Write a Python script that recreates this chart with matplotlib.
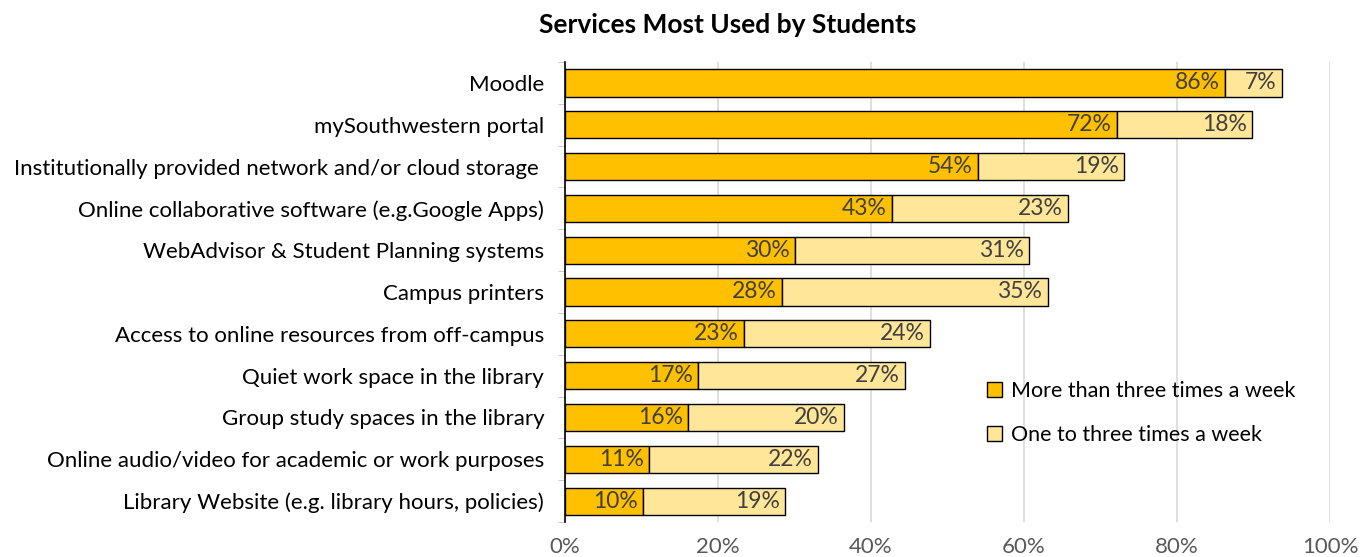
import matplotlib
matplotlib.use("Agg")
import matplotlib.pyplot as plt
import numpy as np
from matplotlib.ticker import FixedLocator

plt.rcParams['font.family'] = ['Lato', 'DejaVu Sans']

categories = [
    "Moodle",
    "mySouthwestern portal",
    "Institutionally provided network and/or cloud storage ",
    "Online collaborative software (e.g.Google Apps)",
    "WebAdvisor & Student Planning systems",
    "Campus printers",
    "Access to online resources from off-campus",
    "Quiet work space in the library",
    "Group study spaces in the library",
    "Online audio/video for academic or work purposes",
    "Library Website (e.g. library hours, policies)",
]
more_than_three = [86.3, 72.2, 54.0, 42.7, 30.1, 28.4, 23.4, 17.4, 16.1, 11.0, 10.2]
one_to_three = [7.4, 17.6, 19.1, 23.1, 30.6, 34.7, 24.3, 27.0, 20.4, 22.1, 18.6]
series_names = ["More than three times a week", "One to three times a week"]
xticks = [0, 20, 40, 60, 80, 100]

c1 = "#FFC000"
c2 = "#FFE699"

fig = plt.figure(figsize=(13.6, 5.57), dpi=100)
ax = fig.add_axes([565/1360, 1-522/557, (1330-565)/1360, 460/557])

y = np.arange(len(categories))
h = 0.65
b1 = ax.barh(y, more_than_three, height=h, color=c1, edgecolor="black", linewidth=1, label=series_names[0], zorder=3)
b2 = ax.barh(y, one_to_three, left=more_than_three, height=h, color=c2, edgecolor="black", linewidth=1, label=series_names[1], zorder=3)

for bars, vals in [(b1, more_than_three), (b2, one_to_three)]:
    for rect, v in zip(bars, vals):
        ax.text(rect.get_x() + rect.get_width() - 0.7, rect.get_y() + rect.get_height()/2,
                f"{round(v)}%", ha="right", va="center", fontsize=16.5, color="#404040", zorder=4)

ax.set_ylim(len(categories) - 0.5, -0.5)
ax.set_xlim(0, 100)
ax.set_yticks(y)
ax.set_yticklabels(categories, fontsize=16, color="#000000")
ax.yaxis.set_minor_locator(FixedLocator(np.arange(-0.5, len(categories), 1)))
ax.tick_params(axis="y", which="major", length=0, pad=15)
ax.tick_params(axis="y", which="minor", length=5, color="#BFBFBF")
ax.set_xticks(xticks)
ax.set_xticklabels([f"{t}%" for t in xticks], fontsize=16, color="#595959")
ax.tick_params(axis="x", length=0, pad=11)
ax.grid(axis="x", color="#D9D9D9", linewidth=1.2, zorder=0)
for s in ["top", "right", "bottom"]:
    ax.spines[s].set_visible(False)
ax.spines["left"].set_color("black")
ax.spines["left"].set_linewidth(1.2)
ax.spines["left"].set_zorder(5)

fig.text(0.535, 0.955, "Services Most Used by Students", ha="center", va="center",
         fontsize=19, fontweight="bold")

leg = ax.legend(loc="upper left", bbox_to_anchor=(968/1360, 1-362/557), bbox_transform=fig.transFigure,
                frameon=False, fontsize=15.5, handlelength=0.7, handleheight=0.7,
                handletextpad=0.4, labelspacing=1.1)

fig.savefig("out.png", dpi=100)
